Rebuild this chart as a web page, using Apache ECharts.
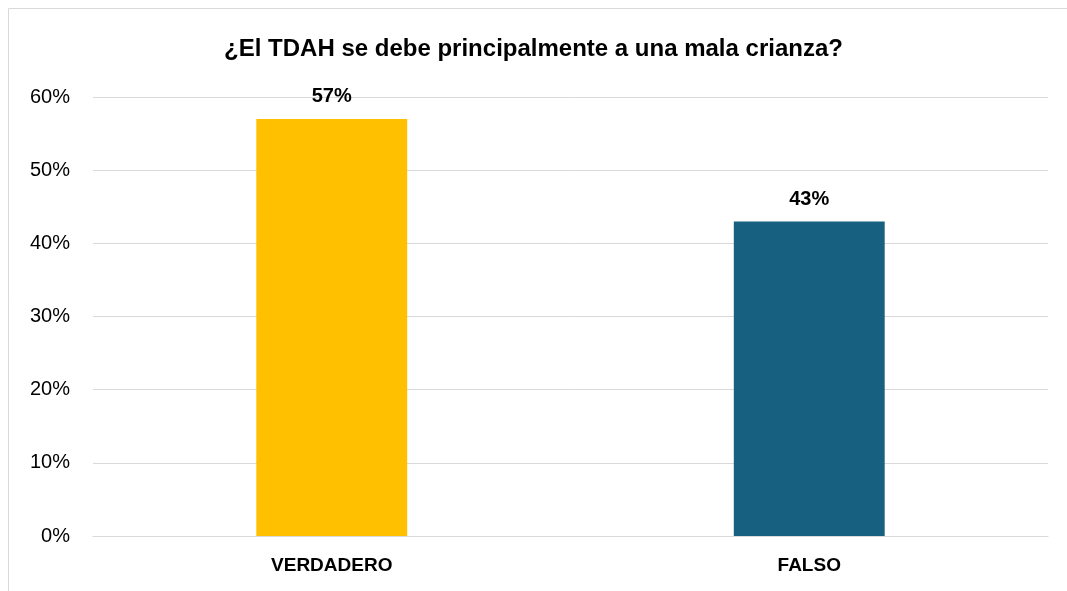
<!DOCTYPE html>
<html>
<head>
<meta charset="utf-8">
<script src="https://cdn.jsdelivr.net/npm/echarts@6/dist/echarts.min.js"></script>
<style>
  html, body { margin: 0; padding: 0; background: #fff; overflow: hidden; }
  #tdahChart { width: 1067px; height: 591px; }
</style>
</head>
<body>
<div id="tdahChart"></div>
<script>
var categories = ['VERDADERO', 'FALSO'];
var values = [57, 43];
var barColors = ['#FFC000', '#17607F'];
var yTicks = [0, 10, 20, 30, 40, 50, 60];

var chartDom = document.getElementById('tdahChart');
var myChart = echarts.init(chartDom);
var option;

option = {
  backgroundColor: '#fff',
  animation: false,
  graphic: [{
    type: 'rect',
    shape: { x: 8.5, y: 8.5, width: 1200, height: 700 },
    style: { fill: 'none', stroke: '#d9d9d9', lineWidth: 1 },
    silent: true
  }],
  title: {
    text: '¿El TDAH se debe principalmente a una mala crianza?',
    left: 'center',
    top: 32,
    textStyle: {
      fontFamily: 'Liberation Sans',
      fontSize: 24,
      fontWeight: 'bold',
      color: '#000'
    }
  },
  grid: { left: 93, right: 19, top: 97, bottom: 55 },
  xAxis: {
    type: 'category',
    data: categories,
    axisLine: { lineStyle: { color: '#d9d9d9', width: 1 } },
    axisTick: { show: false },
    axisLabel: {
      margin: 20,
      fontFamily: 'Liberation Sans',
      fontSize: 19,
      fontWeight: 'bold',
      color: '#000'
    }
  },
  yAxis: {
    type: 'value',
    min: yTicks[0],
    max: yTicks[yTicks.length - 1],
    interval: 10,
    axisLine: { show: false },
    axisTick: { show: false },
    splitLine: { lineStyle: { color: '#d9d9d9', width: 1 } },
    axisLabel: {
      margin: 23,
      formatter: '{value}%',
      fontFamily: 'Liberation Sans',
      fontSize: 20,
      color: '#000'
    }
  },
  series: [{
    type: 'bar',
    barWidth: '31.6%',
    data: values.map(function (v, i) {
      return { value: v, itemStyle: { color: barColors[i] } };
    }),
    label: {
      show: true,
      position: 'top',
      distance: 12,
      formatter: '{c}%',
      fontFamily: 'Liberation Sans',
      fontSize: 20,
      fontWeight: 'bold',
      color: '#000'
    }
  }]
};

option && myChart.setOption(option);
</script>
</body>
</html>
